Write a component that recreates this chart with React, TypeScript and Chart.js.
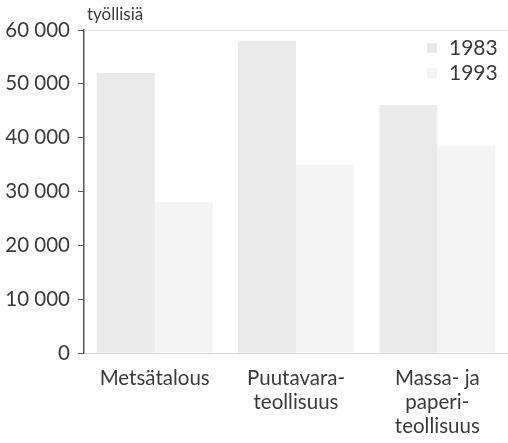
import React, { useEffect, useRef } from "react";
import { Chart, registerables } from "chart.js";

Chart.register(...registerables);

const categories: (string | string[])[] = [
  ["Metsätalous"],
  ["Puutavara-", "teollisuus"],
  ["Massa- ja", "paperi-", "teollisuus"],
];
const seriesLabels = ["1983", "1993"];
const values1983 = [52000, 58000, 46000];
const values1993 = [28000, 35000, 38500];
const yTicks = [0, 10000, 20000, 30000, 40000, 50000, 60000];
const yUnit = "työllisiä";

const FONT = "Lato";
const TEXT = "#3a3a3a";
const COLORS = ["#eaeaea", "#f4f4f4"];

function fmt(v: number): string {
  return v === 0 ? "0" : String(v).replace(/\B(?=(\d{3})+(?!\d))/g, " ");
}

const overlay = {
  id: "overlay",
  afterDraw(chart: any) {
    const { ctx, chartArea } = chart;
    ctx.save();
    ctx.fillStyle = TEXT;
    ctx.font = `17px ${FONT}`;
    ctx.textBaseline = "alphabetic";
    ctx.textAlign = "left";
    ctx.fillText(yUnit, chartArea.left + 3, chartArea.top - 10);
    // legend
    const ds = chart.data.datasets;
    ds.forEach((d: any, i: number) => {
      const cy = chartArea.top + 18 + i * 25;
      ctx.fillStyle = d.backgroundColor;
      ctx.fillRect(chartArea.right - 81, cy - 5, 10, 10);
      ctx.fillStyle = TEXT;
      ctx.font = `21px ${FONT}`;
      ctx.textBaseline = "middle";
      ctx.fillText(d.label, chartArea.right - 59, cy);
    });
    ctx.restore();
  },
};

export default function App() {
  const ref = useRef<HTMLCanvasElement>(null);
  useEffect(() => {
    if (!ref.current) return;
    const chart = new Chart(ref.current, {
      type: "bar",
      data: {
        labels: categories,
        datasets: [
          { label: seriesLabels[0], data: values1983, backgroundColor: COLORS[0] },
          { label: seriesLabels[1], data: values1993, backgroundColor: COLORS[1] },
        ],
      },
      options: {
        animation: false,
        responsive: false,
        maintainAspectRatio: false,
        layout: { padding: { top: 30, right: 0, left: 0, bottom: 0 } },
        plugins: { legend: { display: false }, tooltip: { enabled: false } },
        datasets: { bar: { barPercentage: 1, categoryPercentage: 0.82 } },
        scales: {
          x: {
            grid: { display: false, drawTicks: false },
            border: { display: true, color: "#d4d4d4", width: 1 },
            ticks: {
              color: TEXT,
              font: { family: FONT, size: 20.5, lineHeight: 1.15 },
              padding: 14,
              maxRotation: 0,
              autoSkip: false,
            },
            afterFit: (s: any) => {
              s.height = 90;
            },
          },
          y: {
            min: 0,
            max: 60000,
            afterBuildTicks: (s: any) => {
              s.ticks = yTicks.map((v) => ({ value: v }));
            },
            grid: {
              drawOnChartArea: true,
              color: (c: any) => (c.tick && c.tick.value === 60000 ? "#e2e2e2" : "rgba(0,0,0,0)"),
              tickColor: "#555",
              tickLength: 6,
              drawTicks: true,
            },
            border: { display: true, color: "#555", width: 1.5 },
            ticks: {
              color: TEXT,
              font: { family: FONT, size: 20.5 },
              padding: 8,
              callback: (v: any) => fmt(Number(v)),
            },
            afterFit: (s: any) => {
              s.width = 84;
            },
          },
        },
      },
      plugins: [overlay],
    });
    return () => chart.destroy();
  }, []);
  return (
    <div style={{ position: "fixed", left: 0, top: 0, width: 508, height: 443, background: "#fff" }}>
      <canvas ref={ref} width={508} height={443} style={{ display: "block" }} />
    </div>
  );
}
